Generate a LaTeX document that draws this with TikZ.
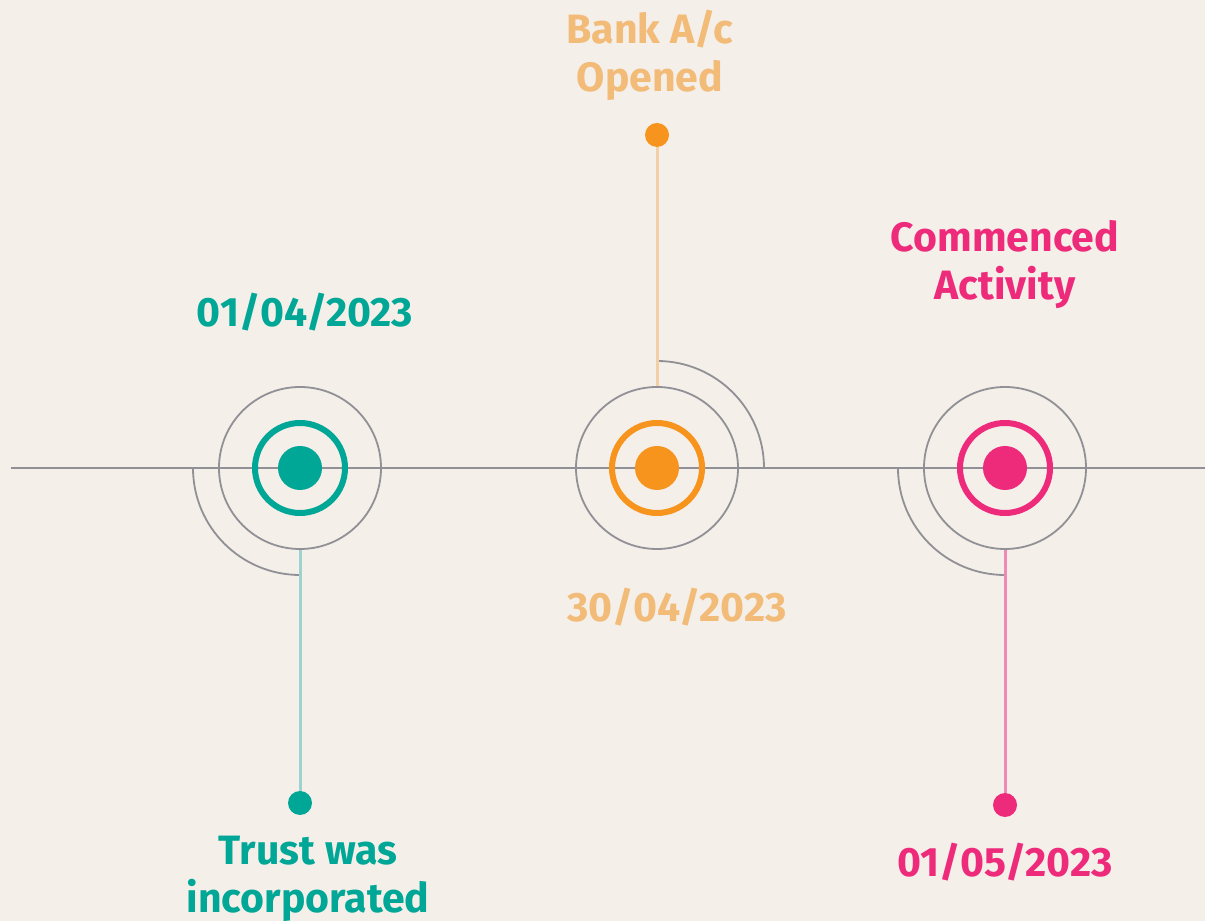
\documentclass[tikz,border=0pt]{standalone}
\usepackage{fontspec}
\setmainfont{Fira Sans}
\definecolor{bg}{HTML}{F4EFE9}
\definecolor{tealmain}{HTML}{00A696}
\definecolor{tealline}{HTML}{9CD3CE}
\definecolor{orangemain}{HTML}{F7941D}
\definecolor{orangetext}{HTML}{F2BB78}
\definecolor{orangeline}{HTML}{F3CFA5}
\definecolor{pinkmain}{HTML}{EE2A7B}
\definecolor{pinkline}{HTML}{EE8AB3}
\definecolor{axis}{HTML}{909096}

\tikzset{
	labeltext/.style={font=\fontsize{41}{48}\selectfont\bfseries, align=center},
	ring/.style={circle, draw=axis, line width=1.8pt, minimum size=162pt, inner sep=0pt},
	enddot/.style={circle, minimum size=24pt, inner sep=0pt},
}

\begin{document}
\begin{tikzpicture}[x=1pt,y=1pt]
	\fill[bg] (0,0) rectangle (1205,921);
	\useasboundingbox (0,0) rectangle (1205,921);
	\newcommand{\ARC}{107}
	\coordinate(L) at (11,453);
	\coordinate(R) at (1205,453);
	\draw[axis, line width=2pt] (L) -- (R);
	% trust incorporated
	\node[ring](A) at (300,453){};
	\draw[tealmain, line width=6pt] (A) circle[radius=45];
	\fill[tealmain] (A) circle[radius=22];
	\draw[axis, line width=1.8pt] (A) ++(-\ARC,0) arc[start angle=180, end angle=270, radius=\ARC];
	\node[enddot, fill=tealmain](A1) at (300,118){};
	\draw[tealline, line width=3pt] (A.south) -- (A1);
	\node[labeltext, text=tealmain](A2) at (305,609){01/04/2023};
	\node[labeltext, text=tealmain](A3) at (308,42){Trust was\\incorporated};
	% bank account
	\node[ring](B) at (657,453){};
	\draw[orangemain, line width=6pt] (B) circle[radius=45];
	\fill[orangemain] (B) circle[radius=22];
	\draw[axis, line width=1.8pt] (B) ++(0,\ARC) arc[start angle=90, end angle=0, radius=\ARC];
	\node[enddot, fill=orangemain](B1) at (657,786){};
	\draw[orangeline, line width=3pt] (B.north) -- (B1);
	\node[labeltext, text=orangetext](B2) at (677,314){30/04/2023};
	\node[labeltext, text=orangetext](B3) at (650,866){Bank A/c\\Opened};
	% commenced activity
	\node[ring](C) at (1005,453){};
	\draw[pinkmain, line width=6pt] (C) circle[radius=45];
	\fill[pinkmain] (C) circle[radius=22];
	\draw[axis, line width=1.8pt] (C) ++(-\ARC,0) arc[start angle=180, end angle=270, radius=\ARC];
	\node[enddot, fill=pinkmain](C1) at (1005,116){};
	\draw[pinkline, line width=3pt] (C.south) -- (C1);
	\node[labeltext, text=pinkmain](C2) at (1005,59){01/05/2023};
	\node[labeltext, text=pinkmain](C3) at (1005,657){Commenced\\Activity};
\end{tikzpicture}
\end{document}
